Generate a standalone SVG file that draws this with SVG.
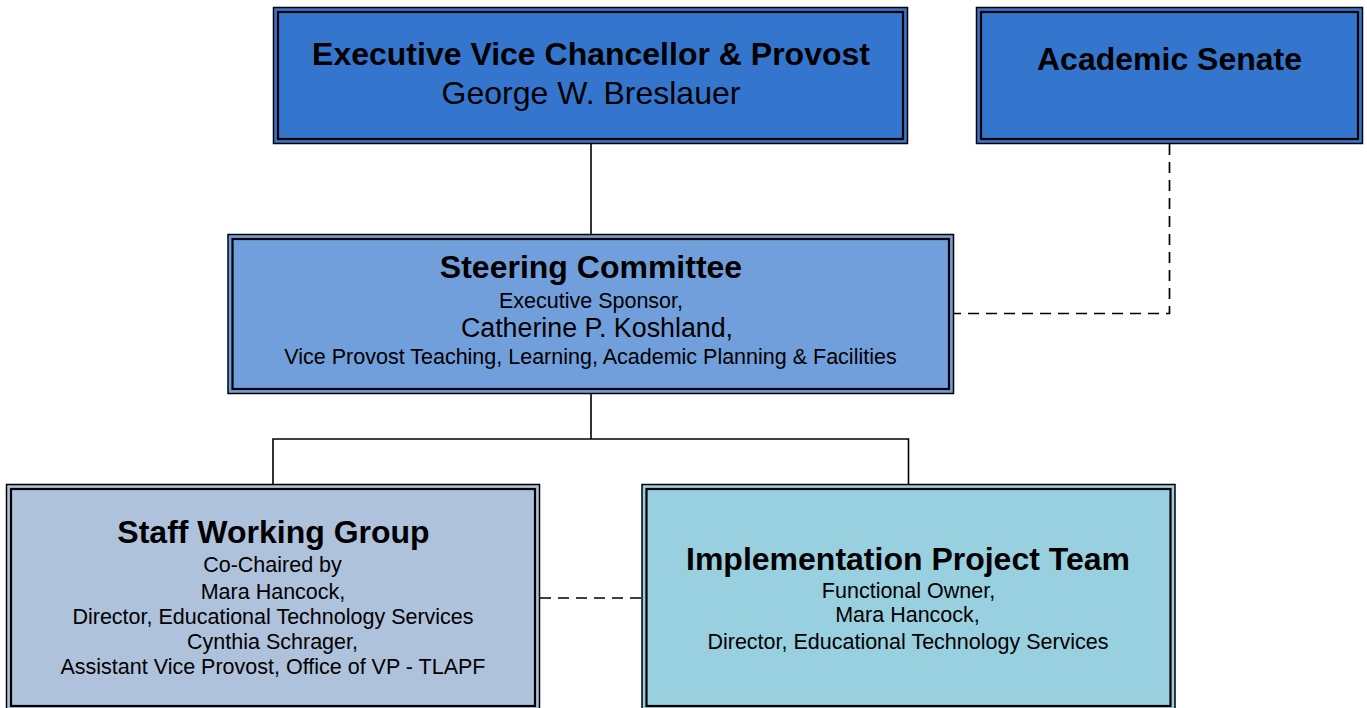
<svg xmlns="http://www.w3.org/2000/svg" width="1367" height="708" viewBox="0 0 1367 708">
<style>
.outer{stroke:#000;stroke-width:1.5}
.inner{fill:none;stroke:#000;stroke-width:2.2}
.t{font-family:"Liberation Sans",Arial,sans-serif;font-weight:bold;font-size:32px;fill:#000;text-anchor:middle}
.s{font-family:"Liberation Sans",Arial,sans-serif;font-size:21.5px;fill:#000;text-anchor:middle}
.m{font-family:"Liberation Sans",Arial,sans-serif;font-size:32px;fill:#000;text-anchor:middle}
.solid{fill:none;stroke:#000;stroke-width:1.6}
.dash{fill:none;stroke:#000;stroke-width:1.7;stroke-dasharray:11 7}
</style>
<rect width="1367" height="708" fill="#fff"/>
<g id="connectors">
<path class="solid" d="M591 144 V234.5"/>
<path class="solid" d="M591 394 V439 M273 439 H908.5 M273 438.2 V484.5 M908.5 438.2 V484.5"/>
<path class="dash" d="M1169.5 144 V313.5 H954"/>
<path class="dash" d="M540 598 H642"/>
</g>
<g id="exec">
<rect class="outer" x="273.5" y="7.5" width="634" height="136" fill="#3476CD"/>
<rect class="inner" x="278" y="12" width="625" height="127"/>
<text class="t" x="591" y="65">Executive Vice Chancellor &amp; Provost</text>
<text class="m" x="591" y="104">George W. Breslauer</text>
</g>
<g id="senate">
<rect class="outer" x="976.5" y="7.5" width="386" height="136" fill="#3476CD"/>
<rect class="inner" x="981" y="12" width="377" height="127"/>
<text class="t" x="1169.5" y="70">Academic Senate</text>
</g>
<g id="steering">
<rect class="outer" x="228" y="234.5" width="725.5" height="159" fill="#719FDB"/>
<rect class="inner" x="232.5" y="239" width="716.5" height="150"/>
<text class="t" x="591" y="278">Steering Committee</text>
<text class="s" x="591" y="307.5">Executive Sponsor,</text>
<text class="s" x="597" y="337" style="font-size:26.8px">Catherine P. Koshland,</text>
<text class="s" x="590.5" y="363.5">Vice Provost Teaching, Learning, Academic Planning &amp; Facilities</text>
</g>
<g id="staff">
<rect class="outer" x="6.5" y="484.5" width="533" height="226" fill="#AFC2DC"/>
<rect class="inner" x="11" y="489" width="524" height="217"/>
<text class="t" x="273.5" y="543">Staff Working Group</text>
<text class="s" x="272.5" y="572">Co-Chaired by</text>
<text class="s" x="273" y="598.5">Mara Hancock,</text>
<text class="s" x="273" y="623.5">Director, Educational Technology Services</text>
<text class="s" x="272.5" y="648.5">Cynthia Schrager,</text>
<text class="s" x="273" y="674">Assistant Vice Provost, Office of VP - TLAPF</text>
</g>
<g id="impl">
<rect class="outer" x="642" y="484.5" width="533" height="226" fill="#99D0DF"/>
<rect class="inner" x="646.5" y="489" width="524" height="217"/>
<text class="t" x="908" y="569.5">Implementation Project Team</text>
<text class="s" x="908.5" y="597.5">Functional Owner,</text>
<text class="s" x="907.5" y="622">Mara Hancock,</text>
<text class="s" x="908" y="648.5">Director, Educational Technology Services</text>
</g>
</svg>
